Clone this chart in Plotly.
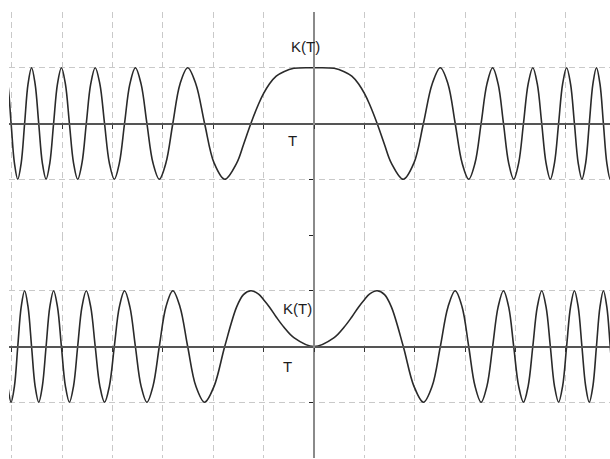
import plotly.graph_objects as go

# Sample positions along T (right half; the curves are symmetric about T = 0)
t_pos = [0.000, 0.400, 0.600, 0.750, 0.886, 1.000, 1.100, 1.253, 1.400, 1.535,
         1.772, 1.982, 2.171, 2.345, 2.507, 2.659, 2.802, 2.939, 3.070, 3.195,
         3.316, 3.432, 3.545, 3.654, 3.760, 3.863, 3.963, 4.061, 4.157, 4.250,
         4.342, 4.431, 4.519, 4.605, 4.690, 4.772, 4.854, 4.934, 5.013, 5.091,
         5.168, 5.243, 5.317, 5.391, 5.463, 5.535, 5.605, 5.675, 5.743, 5.811,
         5.879, 5.945, 6.011, 6.076, 6.140, 6.204]

# Upper panel K(T): flat top at T = 0, then ever faster oscillation
k_upper = [1.00, 0.99, 0.93, 0.85, 0.71, 0.54, 0.35, 0.00, -0.38, -0.71,
           -1.00, -0.71, 0.00, 0.71, 1.00, 0.71, 0.00, -0.71, -1.00, -0.71,
           0.00, 0.71, 1.00, 0.71, 0.00, -0.71, -1.00, -0.71, 0.00, 0.71,
           1.00, 0.71, 0.00, -0.71, -1.00, -0.71, 0.00, 0.71, 1.00, 0.71,
           0.00, -0.71, -1.00, -0.71, 0.00, 0.71, 1.00, 0.71, 0.00, -0.71,
           -1.00, -0.71, 0.00, 0.71, 1.00, 0.71]

# Lower panel K(T): zero at T = 0, first maxima near |T| = 1.25
k_lower = [0.00, 0.16, 0.35, 0.53, 0.71, 0.84, 0.94, 1.00, 0.93, 0.71,
           0.00, -0.71, -1.00, -0.71, 0.00, 0.71, 1.00, 0.71, 0.00, -0.71,
           -1.00, -0.71, 0.00, 0.71, 1.00, 0.71, 0.00, -0.71, -1.00, -0.71,
           0.00, 0.71, 1.00, 0.71, 0.00, -0.71, -1.00, -0.71, 0.00, 0.71,
           1.00, 0.71, 0.00, -0.71, -1.00, -0.71, 0.00, 0.71, 1.00, 0.71,
           0.00, -0.71, -1.00, -0.71, 0.00, 0.71]

x_ticks = [-6, -5, -4, -3, -2, -1, 0, 1, 2, 3, 4, 5]
x_range = [-6.053, 5.874]
y_range = [-2, 2]


def mirrored(xs, ys):
    left_x = [-v for v in reversed(xs[1:])]
    left_y = list(reversed(ys[1:]))
    return left_x + list(xs), left_y + list(ys)


tu, ku = mirrored(t_pos, k_upper)
tl, kl = mirrored(t_pos, k_lower)

curve = dict(color="#2a2a2a", width=1.6, shape="spline", smoothing=1.0)

fig = go.Figure()
fig.add_trace(go.Scatter(x=tu, y=ku, mode="lines", line=curve,
                         xaxis="x", yaxis="y", hoverinfo="skip"))
fig.add_trace(go.Scatter(x=tl, y=kl, mode="lines", line=curve,
                         xaxis="x2", yaxis="y2", hoverinfo="skip"))

upper_dom = [0.5, 1.0]
lower_dom = [0.0, 0.5]


def zero_pos(rng, dom):
    return dom[0] + (0 - rng[0]) / (rng[1] - rng[0]) * (dom[1] - dom[0])


grid = dict(showgrid=True, gridcolor="#c9c9c9", gridwidth=1, griddash="6px,4px",
            zeroline=False, showticklabels=False)

xax = dict(range=x_range, domain=[0, 1], anchor="free", tickvals=x_ticks,
           showline=True, linecolor="#555555", linewidth=2,
           ticks="outside", ticklen=4, tickwidth=1, tickcolor="#333333", **grid)
yax = dict(range=y_range, anchor="free", position=zero_pos(x_range, [0, 1]),
           showline=True, linecolor="#8a8a8a", linewidth=2,
           ticks="outside", ticklen=4, tickwidth=1, tickcolor="#222222", **grid)

fig.update_layout(
    width=610, height=459,
    margin=dict(l=9, r=0, t=12, b=1),
    paper_bgcolor="white", plot_bgcolor="white",
    showlegend=False,
    xaxis=dict(position=zero_pos(y_range, upper_dom), **xax),
    xaxis2=dict(position=zero_pos(y_range, lower_dom), matches="x", **xax),
    yaxis=dict(domain=upper_dom, tickvals=[-2, -1, 1], **yax),
    yaxis2=dict(domain=lower_dom, tickvals=[-1, 1], **yax),
)

label_font = dict(family="Liberation Sans, Arial, sans-serif", size=15, color="#1c1c1c")
for text, xr, yr, xv, yv in [
    ("K(T)", "x", "y", -0.16, 1.39),
    ("T", "x", "y", -0.42, -0.30),
    ("K(T)", "x2", "y2", -0.32, 0.69),
    ("T", "x2", "y2", -0.53, -0.35),
]:
    fig.add_annotation(text=text, x=xv, y=yv, xref=xr, yref=yr,
                       showarrow=False, font=label_font)

fig.write_html("out.html")
